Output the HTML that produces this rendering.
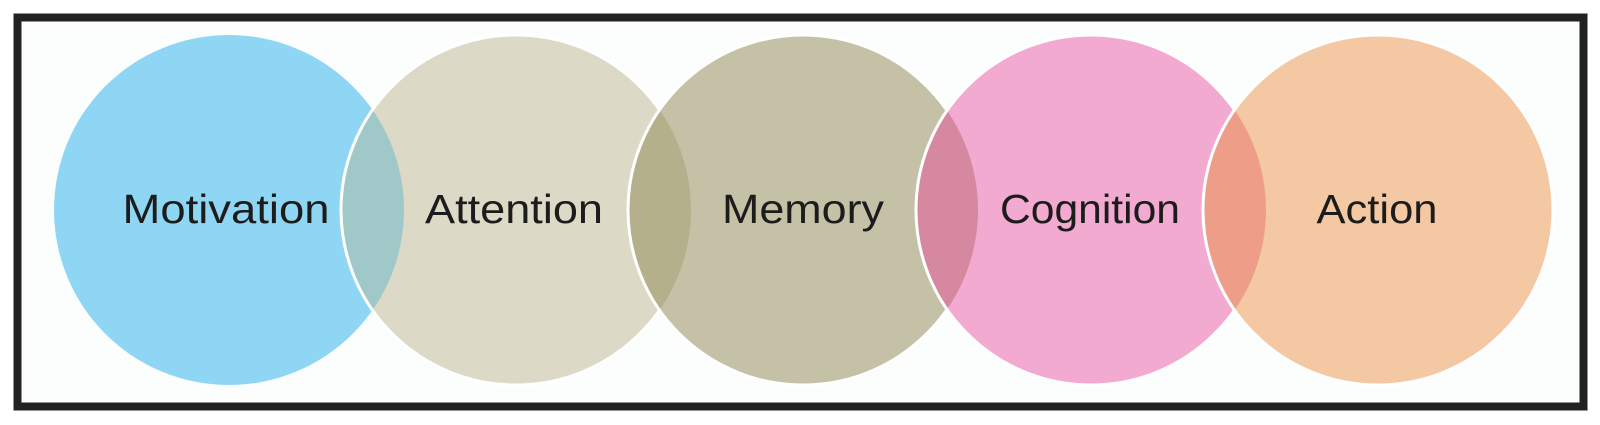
<!DOCTYPE html>
<html><head><style>
html,body{margin:0;padding:0;background:#fff;width:1600px;height:425px;overflow:hidden}
</style></head><body>
<svg width="1600" height="425" viewBox="0 0 1600 425" xmlns="http://www.w3.org/2000/svg">
<defs>
<clipPath id="c1"><circle cx="229" cy="210" r="175"/></clipPath>
<clipPath id="c2"><circle cx="516" cy="210" r="175"/></clipPath>
<clipPath id="c3"><circle cx="803" cy="210" r="175"/></clipPath>
<clipPath id="c4"><circle cx="1091" cy="210" r="175"/></clipPath>
</defs>
<rect x="17.5" y="17.5" width="1566" height="389" fill="#fcfdfd" stroke="#222" stroke-width="8"/>
<circle cx="229" cy="210" r="175" fill="#8fd6f5"/>
<circle cx="516" cy="210" r="175" fill="#dcd9c6"/>
<circle cx="516" cy="210" r="175" fill="#a0c8c8" clip-path="url(#c1)"/>
<circle cx="516" cy="210" r="175" fill="none" stroke="#fff" stroke-width="3"/>
<circle cx="803" cy="210" r="175" fill="#c5c1a7"/>
<circle cx="803" cy="210" r="175" fill="#b5b08c" clip-path="url(#c2)"/>
<circle cx="803" cy="210" r="175" fill="none" stroke="#fff" stroke-width="3"/>
<circle cx="1091" cy="210" r="175" fill="#f2aad0"/>
<circle cx="1091" cy="210" r="175" fill="#d688a0" clip-path="url(#c3)"/>
<circle cx="1091" cy="210" r="175" fill="none" stroke="#fff" stroke-width="3"/>
<circle cx="1378" cy="210" r="175" fill="#f3c8a3"/>
<circle cx="1378" cy="210" r="175" fill="#ee9e88" clip-path="url(#c4)"/>
<circle cx="1378" cy="210" r="175" fill="none" stroke="#fff" stroke-width="3"/>
<g font-family="Liberation Sans, sans-serif" font-size="41" fill="#1c1c1c" text-anchor="middle" lengthAdjust="spacingAndGlyphs">
<text x="226" y="223" textLength="207" lengthAdjust="spacingAndGlyphs">Motivation</text>
<text x="514" y="223" textLength="178" lengthAdjust="spacingAndGlyphs">Attention</text>
<text x="803" y="223" textLength="162" lengthAdjust="spacingAndGlyphs">Memory</text>
<text x="1090" y="223" textLength="180" lengthAdjust="spacingAndGlyphs">Cognition</text>
<text x="1377" y="223" textLength="121" lengthAdjust="spacingAndGlyphs">Action</text>
</g>
</svg>
</body></html>
